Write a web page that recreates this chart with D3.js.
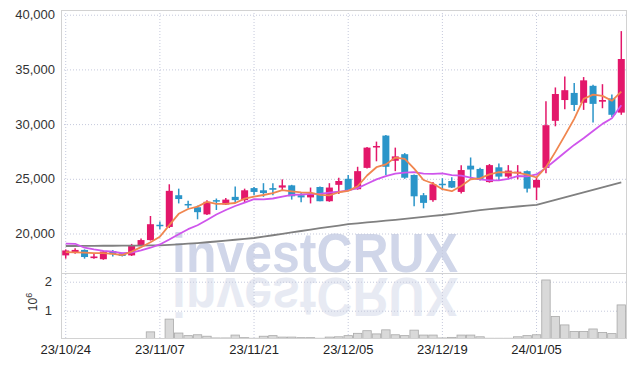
<!DOCTYPE html>
<html>
<head>
<meta charset="utf-8">
<script src="https://cdn.jsdelivr.net/npm/d3@7"></script>
<style>
  body { margin: 0; background: #fff; }
  svg { display: block; }
  text { font-family: "Liberation Sans", Arial, sans-serif; }
</style>
</head>
<body>
<div id="chart"></div>
<script>
// trading days shown (yy/mm/dd)
const dates = [
  '23/10/24', '23/10/25', '23/10/26', '23/10/27', '23/10/30', '23/10/31',
  '23/11/01', '23/11/02', '23/11/03', '23/11/06', '23/11/07', '23/11/08', '23/11/09', '23/11/10',
  '23/11/13', '23/11/14', '23/11/15', '23/11/16', '23/11/17', '23/11/20', '23/11/21', '23/11/22',
  '23/11/23', '23/11/24', '23/11/27', '23/11/28', '23/11/29', '23/11/30',
  '23/12/01', '23/12/04', '23/12/05', '23/12/06', '23/12/07', '23/12/08', '23/12/11', '23/12/12',
  '23/12/13', '23/12/14', '23/12/15', '23/12/18', '23/12/19', '23/12/20', '23/12/21', '23/12/22',
  '23/12/26', '23/12/27', '23/12/28',
  '24/01/02', '24/01/03', '24/01/04', '24/01/05', '24/01/08', '24/01/09', '24/01/10', '24/01/11',
  '24/01/12', '24/01/15', '24/01/16', '24/01/17', '24/01/18'
];

const opens = [
  18000, 18250, 18500, 17750, 17650, 18400, 18200, 18000, 18900, 19400,
  20800, 20600, 23500, 22700, 22400, 21750, 23050, 22650, 23350, 23050,
  24150, 23950, 24150, 24200, 24400, 23500, 23300, 24250, 22950, 24450,
  25000, 24050, 26000, 27900, 28950, 26650, 27250, 25350, 23500, 23050,
  24550, 24800, 23800, 26200, 25900, 24700, 26050, 25200, 25550, 25700,
  24200, 26000, 30300, 32200, 32850, 31950, 33500, 32050, 32350, 31050
];
const highs = [
  18550, 18650, 18550, 18150, 18400, 18500, 18250, 19050, 19550, 21600,
  21100, 24500, 24100, 23000, 22550, 23050, 23200, 23250, 24300, 24100,
  24250, 24600, 24600, 24950, 24450, 23800, 24200, 24300, 24600, 25100,
  25350, 26100, 27900, 28400, 29000, 27850, 27350, 25400, 23700, 24700,
  25050, 25150, 26250, 26950, 26000, 26350, 26400, 26250, 26250, 25750,
  25200, 32100, 33350, 34350, 33750, 34300, 33600, 33650, 32700, 38500
];
const lows = [
  17700, 18150, 17700, 17700, 17600, 17900, 17900, 17950, 18850, 19350,
  20400, 20500, 22750, 22300, 21300, 21700, 22150, 22600, 22800, 22800,
  23500, 23350, 23500, 23950, 23100, 22850, 22750, 22950, 22900, 23600,
  23900, 24000, 25950, 26600, 25350, 25700, 25000, 22500, 22300, 22900,
  24000, 24150, 23650, 24900, 24850, 24650, 24900, 25000, 24950, 23750,
  23050, 25500, 29800, 31350, 31200, 31300, 30150, 31450, 30650, 30850
];
const closes = [
  18450, 18500, 17850, 17900, 18350, 18100, 17950, 18950, 19400, 20850,
  20700, 23900, 23150, 22600, 21950, 22900, 22950, 23100, 23050, 23950,
  23800, 23700, 24000, 24400, 23400, 23300, 23600, 22950, 24200, 24800,
  23950, 25700, 27850, 28000, 26100, 27050, 25100, 23400, 22800, 24500,
  24450, 24200, 25800, 25850, 24900, 26250, 25200, 25750, 25650, 24100,
  24900, 29900, 32750, 33100, 31750, 34000, 31850, 32200, 30850, 35950
];
// volume in millions of shares
const volumes = [
  0.01, 0.02, 0.04, 0.04, 0.01, 0.01, 0.02, 0.04, 0.04, 0.27,
  0.03, 0.71, 0.23, 0.14, 0.17, 0.12, 0.06, 0.06, 0.16, 0.07,
  0.05, 0.12, 0.14, 0.09, 0.09, 0.07, 0.07, 0.05, 0.09, 0.10,
  0.14, 0.22, 0.31, 0.20, 0.34, 0.17, 0.14, 0.33, 0.16, 0.16,
  0.06, 0.08, 0.16, 0.16, 0.10, 0.05, 0.05, 0.05, 0.10, 0.14,
  0.17, 2.06, 0.80, 0.51, 0.28, 0.28, 0.37, 0.25, 0.21, 1.20
];
// moving averages as drawn
const ma5 = [
  18300, 18280, 18250, 18200, 18210, 18140, 18030, 18340, 18750, 19200,
  19700, 20760, 21800, 22240, 22460, 22900, 22710, 22700, 22790, 23190,
  23370, 23520, 23700, 23970, 23860, 23760, 23740, 23530, 23490, 23770,
  23900, 24320, 25300, 26060, 26320, 26940, 26820, 25930, 24890, 24570,
  24050, 23870, 24350, 24960, 25040, 25400, 25600, 25590, 25550, 25390,
  25120, 26060, 27460, 28950, 30480, 32300, 32690, 32580, 32130, 32970
];
const ma10 = [
  19080, 19060, 18700, 18550, 18420, 18350, 18200, 18250, 18450, 18700,
  19000, 19450, 19925, 20395, 20755, 21235, 21735, 22150, 22515, 22825,
  23135, 23115, 23200, 23380, 23525, 23565, 23630, 23615, 23730, 23815,
  23950, 24150, 24550, 24950, 25250, 25480, 25570, 25615, 25475, 25445,
  25495, 25345, 25300, 25100, 24950, 24850, 24850, 25000, 25255, 25215,
  25400, 26000, 26700, 27400, 28100, 28710, 29375, 30020, 30540, 31725
];
const ma60 = [
  18860, 18860, 18870, 18870, 18880, 18880, 18890, 18890, 18900, 18910,
  18920, 18960, 19010, 19070, 19130, 19200, 19270, 19350, 19430, 19510,
  19590, 19710, 19840, 19970, 20100, 20230, 20360, 20490, 20610, 20730,
  20850, 20930, 21010, 21090, 21170, 21250, 21340, 21430, 21520, 21610,
  21690, 21800, 21910, 22020, 22130, 22230, 22310, 22390, 22470, 22540,
  22610, 22840, 23070, 23300, 23530, 23760, 23990, 24220, 24450, 24680
];

const tickDates = ['23/10/24', '23/11/07', '23/11/21', '23/12/05', '23/12/19', '24/01/05'];
const priceTicks = [20000, 25000, 30000, 35000, 40000];
const volTicks = [1, 2];

const W = 634, H = 367;
const plotLeft = 61, plotRight = 626, plotTop = 10, priceBottom = 273, volBottom = 338;
const upColor = '#e3176a', downColor = '#2b95c9';
const gridColor = '#c5c9dc', frameColor = '#d2d2d2';

const svg = d3.select('#chart').append('svg')
  .attr('width', W)
  .attr('height', H);

const x = d3.scaleBand().domain(dates).range([plotLeft, plotRight]).padding(0);
const cx = (d) => x(d) + x.bandwidth() / 2;
const y = d3.scaleLinear().domain([16390, 40430]).range([priceBottom, plotTop]);
const yv = d3.scaleLinear().domain([0, 2.28]).range([339.7, 273.6]);

// clip paths for the two panes
const defs = svg.append('defs');
defs.append('clipPath').attr('id', 'clipPrice')
  .append('rect').attr('x', plotLeft).attr('y', plotTop)
  .attr('width', plotRight - plotLeft).attr('height', priceBottom - plotTop);
defs.append('clipPath').attr('id', 'clipVol')
  .append('rect').attr('x', plotLeft).attr('y', priceBottom)
  .attr('width', plotRight - plotLeft).attr('height', volBottom - priceBottom);

// watermark + its mirrored reflection
defs.append('text')
  .attr('id', 'wmText')
  .attr('x', 172).attr('y', 272)
  .attr('textLength', 286).attr('lengthAdjust', 'spacingAndGlyphs')
  .style('font-size', '55px').style('font-weight', 'bold')
  .text('investCRUX');
const wm = svg.append('g').attr('fill', '#d0d6e9');
wm.append('use').attr('href', '#wmText');
wm.append('use').attr('href', '#wmText')
  .attr('transform', 'translate(0,' + (2 * 275) + ') scale(1,-1)')
  .attr('opacity', 0.5);

// horizontal grid + labels (price)
const gp = svg.append('g')
  .attr('transform', 'translate(' + plotLeft + ',0)')
  .call(d3.axisLeft(y).tickValues(priceTicks).tickSize(-(plotRight - plotLeft)).tickPadding(6)
    .tickFormat(d3.format(',')));
gp.select('.domain').remove();
gp.selectAll('line').attr('stroke', gridColor).attr('stroke-dasharray', '1,2');
gp.selectAll('text').style('font-size', '13px').attr('fill', '#333').attr('x', -6);

// horizontal grid + labels (volume)
const gv = svg.append('g')
  .attr('transform', 'translate(' + plotLeft + ',0)')
  .call(d3.axisLeft(yv).tickValues(volTicks).tickSize(-(plotRight - plotLeft)).tickPadding(6)
    .tickFormat(d3.format('d')));
gv.select('.domain').remove();
gv.selectAll('line').attr('stroke', gridColor).attr('stroke-dasharray', '1,2');
gv.selectAll('text').style('font-size', '13px').attr('fill', '#333').attr('x', -9);

// 10^6 unit label
const unit = svg.append('text')
  .attr('transform', 'translate(37,302) rotate(-90)')
  .attr('text-anchor', 'middle')
  .style('font-size', '12px').attr('fill', '#333');
unit.append('tspan').text('10');
unit.append('tspan').attr('dy', -5).style('font-size', '9px').text('6');

// vertical grid + date labels
const gx = svg.append('g')
  .attr('transform', 'translate(0,' + volBottom + ')')
  .call(d3.axisBottom(x).tickValues(tickDates).tickSize(-(volBottom - plotTop)).tickPadding(7));
gx.select('.domain').remove();
gx.selectAll('line').attr('stroke', gridColor).attr('stroke-dasharray', '1,2');
gx.selectAll('text').style('font-size', '13px').attr('fill', '#222');

// frame
svg.append('rect')
  .attr('x', plotLeft + 0.5).attr('y', plotTop + 0.5)
  .attr('width', plotRight - plotLeft).attr('height', volBottom - plotTop)
  .attr('fill', 'none').attr('stroke', frameColor);
svg.append('line')
  .attr('x1', plotLeft).attr('x2', plotRight + 1)
  .attr('y1', priceBottom + 0.5).attr('y2', priceBottom + 0.5)
  .attr('stroke', frameColor);

// volume bars
svg.append('g').attr('clip-path', 'url(#clipVol)')
  .selectAll('rect')
  .data(dates)
  .join('rect')
  .attr('x', (d) => x(d) + 0.5)
  .attr('width', x.bandwidth() - 1)
  .attr('y', (d, i) => yv(volumes[i]))
  .attr('height', (d, i) => yv(0) - yv(volumes[i]))
  .attr('fill', '#d9d9d9')
  .attr('stroke', '#a9a9a9')
  .attr('stroke-width', 0.8);

// candles
const pricePane = svg.append('g').attr('clip-path', 'url(#clipPrice)');
const candle = pricePane.append('g').selectAll('g')
  .data(dates)
  .join('g');
candle.append('line')
  .attr('x1', (d) => cx(d)).attr('x2', (d) => cx(d))
  .attr('y1', (d, i) => y(highs[i]))
  .attr('y2', (d, i) => y(lows[i]))
  .attr('stroke', (d, i) => closes[i] >= opens[i] ? upColor : downColor)
  .attr('stroke-width', 1.5);
candle.append('rect')
  .attr('x', (d) => cx(d) - 3.5)
  .attr('width', 7)
  .attr('y', (d, i) => y(Math.max(opens[i], closes[i])))
  .attr('height', (d, i) => Math.max(1.5, Math.abs(y(opens[i]) - y(closes[i]))))
  .attr('fill', (d, i) => closes[i] >= opens[i] ? upColor : downColor);

// moving averages
const lines = [
  {values: ma60, color: '#808080'},
  {values: ma10, color: '#cf55ec'},
  {values: ma5, color: '#f0864f'}
];
lines.forEach((l) => {
  pricePane.append('path')
    .datum(l.values)
    .attr('fill', 'none')
    .attr('stroke', l.color)
    .attr('stroke-width', 1.8)
    .attr('stroke-linejoin', 'round')
    .attr('d', d3.line()
      .x((d, i) => cx(dates[i]))
      .y((d) => y(d)));
});
</script>
</body>
</html>
